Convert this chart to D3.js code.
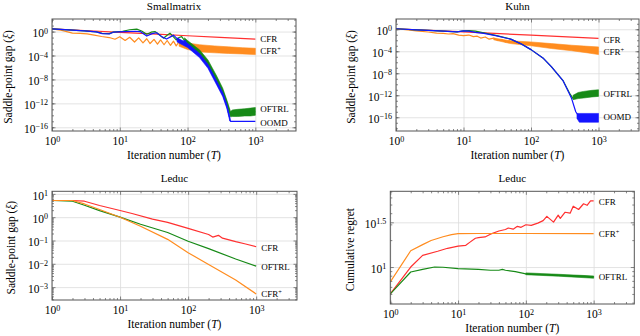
<!DOCTYPE html>
<html><head><meta charset="utf-8">
<script src="https://cdn.jsdelivr.net/npm/d3@7"></script>
<style>
body{margin:0;background:#fff;}
svg text{font-family:"Liberation Serif","Times New Roman",serif;fill:#000;}
</style></head><body>
<svg id="c" width="640" height="336"></svg>
<script>
// ---------------- DATA ----------------
const xTickValues = [1, 10, 100, 1000];

// Smallmatrix (saddle-point gap)
const smCFR_T = [1, 3, 10, 30, 100, 300, 1000];
const smCFR = [2.8, 1.5, 0.76, 0.41, 0.2, 0.11, 0.054];
const smCFRp_T = [1, 1.4, 2, 2.6, 3.3, 4.2, 5.4, 7, 8.5, 10, 12, 14, 16.5, 19, 22, 25, 28, 32, 36, 40, 45, 50, 56, 62, 68, 75, 82];
const smCFRp = [2.8, 1.6, 0.54, 0.5, 0.42, 0.25, 0.15, 0.1, 0.052, 0.14, 0.032, 0.11, 0.018, 0.089, 0.013, 0.063, 0.01, 0.05, 7.9e-3, 0.04, 6.3e-3, 0.032, 5.0e-3, 0.025, 4.0e-3, 0.02, 3.2e-3];
const smCFRpBand_T = [75, 100, 150, 250, 400, 650, 1000];
const smCFRpBand_lo = [3.5e-3, 1.0e-3, 4.0e-4, 2.8e-4, 2.2e-4, 1.8e-4, 1.4e-4];
const smCFRpBand_hi = [0.02, 0.0126, 6.3e-3, 4.0e-3, 2.8e-3, 2.0e-3, 1.6e-3];
const smOFTRL_T = [1, 2, 3, 4.5, 5.5, 7, 8, 11, 14, 17.8, 21, 25, 29, 33, 38, 44, 50, 55, 62, 68, 75, 82, 90, 100, 150, 200, 270, 330, 380, 430, 450, 600, 1000];
const smOFTRL = [2.8, 1.8, 1.3, 0.89, 0.5, 0.45, 0.79, 1.12, 2.0, 2.5, 1.26, 0.36, 0.79, 1.0, 0.32, 0.079, 0.25, 0.54, 0.126, 0.04, 0.1, 0.14, 0.032, 0.0112, 3.2e-4, 6.3e-6, 1.26e-8, 1.26e-10, 1.26e-12, 1.6e-14, 1e-14, 2.5e-14, 4.0e-14];
const smOFTRLBand_T = [90, 100, 150, 200, 270, 330, 380, 430, 460, 550, 700, 850, 1000];
const smOFTRLBand_lo = [0.0112, 4.0e-3, 1.1e-4, 2.2e-6, 4.5e-9, 4.5e-11, 4.5e-13, 5.6e-15, 6.3e-15, 6.3e-15, 7.9e-15, 7.9e-15, 1e-14];
const smOFTRLBand_hi = [0.089, 0.032, 8.9e-4, 1.8e-5, 3.5e-8, 3.5e-10, 3.5e-12, 4.5e-14, 7.9e-14, 1e-13, 1.26e-13, 1.6e-13, 2.0e-13];
const smOOMD_T = [1, 2, 3, 4.5, 5.5, 7, 8, 12, 17, 20, 25, 30, 35, 42, 49, 56, 62, 72, 82, 92, 100, 150, 200, 270, 330, 380, 430, 1000];
const smOOMD = [2.8, 1.8, 1.3, 0.89, 0.45, 0.4, 0.79, 1.0, 1.12, 1.0, 0.18, 0.45, 0.63, 0.13, 0.056, 0.13, 0.25, 0.05, 0.02, 0.032, 5.0e-3, 1e-4, 1.6e-6, 2.5e-9, 3.2e-11, 3.2e-13, 1e-15, 1e-15];
const smOOMDBand_T = [70, 100, 150, 200, 270, 330, 380, 420];
const smOOMDBand_lo = [0.0178, 2.2e-3, 4.5e-5, 7.1e-7, 1.1e-9, 1.4e-11, 1.4e-13, 1.1e-15];
const smOOMDBand_hi = [0.089, 0.0112, 2.2e-4, 3.5e-6, 5.6e-9, 7.1e-11, 7.1e-13, 5.6e-15];

// Kuhn (saddle-point gap)
const kuCFR_T = [1, 10, 100, 1000];
const kuCFR = [1.26, 0.33, 0.085, 0.022];
const kuCFRp_T = [1, 1.5, 2, 3, 4, 5, 6, 7, 8.5, 10, 12, 14, 16, 18, 21, 24, 28, 32, 37, 42, 48, 55];
const kuCFRp = [1.26, 0.79, 0.5, 0.32, 0.2, 0.18, 0.14, 0.16, 0.089, 0.071, 0.089, 0.045, 0.056, 0.025, 0.04, 0.016, 0.025, 0.01, 0.014, 5.0e-3, 7.9e-3, 3.2e-3];
const kuCFRpBand_T = [28, 50, 100, 200, 400, 700, 1000];
const kuCFRpBand_lo = [0.012, 2.5e-3, 1e-3, 3.2e-4, 1.26e-4, 5.0e-5, 2.5e-5];
const kuCFRpBand_hi = [0.025, 7.9e-3, 5.0e-3, 2.5e-3, 1.26e-3, 7.9e-4, 6.3e-4];
const kuOFTRL_T = [1, 2, 3, 5, 8, 10, 12, 15, 20, 30, 50, 70, 100, 150, 200, 300, 380, 420];
const kuOFTRL = [1.26, 0.79, 0.63, 0.45, 0.35, 0.5, 0.56, 0.45, 0.22, 0.079, 0.016, 2.5e-3, 2.0e-4, 6.3e-6, 1.6e-7, 4.0e-10, 1.6e-12, 2.5e-13];
const kuOFTRLBand_T = [420, 500, 600, 800, 1000];
const kuOFTRLBand_lo = [1.6e-13, 2.5e-13, 3.2e-13, 5.0e-13, 6.3e-13];
const kuOFTRLBand_hi = [1e-12, 3.2e-12, 5.0e-12, 7.9e-12, 1e-11];
const kuOOMD_T = [1, 2, 3, 5, 8, 10, 12, 15, 20, 30, 50, 70, 100, 150, 200, 300, 400, 460, 520];
const kuOOMD = [1.26, 0.79, 0.63, 0.45, 0.35, 0.5, 0.45, 0.28, 0.18, 0.071, 0.016, 2.5e-3, 2.0e-4, 6.3e-6, 1.6e-7, 4.0e-10, 2.5e-13, 1e-15, 1e-16];
const kuOOMDBand_T = [480, 520, 700, 1000];
const kuOOMDBand_lo = [6.3e-17, 1.26e-17, 1.26e-17, 1.26e-17];
const kuOOMDBand_hi = [5.0e-16, 5.0e-16, 5.0e-16, 5.0e-16];

// Leduc (saddle-point gap)
const leCFR_T = [1, 2, 3, 5, 10, 15, 30, 50, 100, 200, 230, 279, 320, 500, 700, 1000];
const leCFR = [5.2, 5.2, 4.85, 3.16, 1.93, 1.44, 0.83, 0.6, 0.33, 0.18, 0.14, 0.166, 0.126, 0.089, 0.071, 0.054];
const leOFTRL_T = [1, 2, 3, 5, 10, 20, 50, 100, 200, 500, 1000];
const leOFTRL = [5.2, 4.85, 3.24, 1.9, 1.0, 0.5, 0.22, 0.093, 0.045, 0.016, 7.9e-3];
const leCFRp_T = [1, 2, 3, 5, 10, 20, 50, 100, 200, 500, 1000];
const leCFRp = [5.2, 5.2, 3.7, 2.14, 1.0, 0.41, 0.112, 0.03, 9.3e-3, 2.0e-3, 5.1e-4];

// Leduc (cumulative regret)
const rgCFR_T = [1, 2, 3, 5, 7, 10, 13, 15, 18, 20, 25, 30, 40, 50, 55, 65, 75, 85, 100, 120, 150, 180, 204, 256, 300, 322, 380, 450, 500, 600, 710, 800, 900, 1000];
const rgCFR = [5.0, 10.0, 13.5, 15.0, 16.2, 17.1, 17.5, 19.0, 21.0, 21.3, 21.7, 23.3, 25.3, 26.3, 27.3, 26.5, 28.5, 27.8, 29.7, 29.2, 31.0, 33.0, 36.9, 31.8, 38.0, 35.0, 41.0, 40.0, 47.9, 44.0, 51.0, 49.0, 55.0, 55.0];
const rgCFRp_T = [1, 2, 3, 4, 6, 8, 10, 20, 100, 1000];
const rgCFRp = [6.8, 15.2, 17.8, 19.8, 21.8, 23.0, 23.6, 23.7, 23.7, 23.6];
const rgOFTRL_T = [1, 2, 3, 4.5, 6, 10, 20, 30, 40, 45, 50, 70, 100, 200, 400, 700, 1000];
const rgOFTRL = [5.0, 8.8, 9.4, 10.0, 9.95, 9.6, 9.4, 9.2, 9.2, 9.4, 9.2, 8.9, 8.4, 8.2, 8.0, 7.9, 7.75];
const rgOFTRLBand_T = [100, 300, 1000];
const rgOFTRLBand_lo = [8.2, 7.9, 7.5];
const rgOFTRLBand_hi = [8.6, 8.3, 7.95];

// Titles / labels
const titles = ["Smallmatrix", "Kuhn", "Leduc", "Leduc"];
const xLabel = "Iteration number (", xLabelVar = "T";
const gapLabel = "Saddle-point gap (", gapVar = "ξ";
const regretLabel = "Cumulative regret";

// ---------------- DRAW ----------------
const COL = {red: "#ff3030", orange: "#ff8c1f", green: "#178a17", blue: "#1414ff"};
const svg = d3.select("#c");
const zip = (T, v) => T.map((t, i) => [t, v[i]]);
const zip3 = (T, a, b) => T.map((t, i) => [t, a[i], b[i]]);

function expStr(v) {
  const e = Math.round(Math.log10(v) * 10) / 10;
  return (e < 0 ? "\u2212" : "") + Math.abs(e);
}
function supText(sel, base, exp) {
  sel.text(null);
  sel.append("tspan").text(base);
  if (exp) sel.append("tspan").attr("dy", "-0.45em").attr("font-size", "0.7em").text(exp);
}
function minorTicks(domain) {
  const out = [];
  const lo = Math.floor(Math.log10(domain[0])), hi = Math.ceil(Math.log10(domain[1]));
  for (let k = lo; k <= hi; k++) {
    const b = Math.pow(10, k);
    for (let m = 2; m <= 9; m++) { const v = m * b; if (v >= domain[0] && v <= domain[1]) out.push(v); }
  }
  return out;
}
function decadeTicks(domain) {
  const out = [];
  for (let k = Math.ceil(Math.log10(domain[0])); k <= Math.floor(Math.log10(domain[1])); k++) out.push(Math.pow(10, k));
  return out;
}

function panel(cfg, idx) {
  const {L, R, T, B} = cfg.box;
  const x = d3.scaleLog().domain(cfg.xDomain).range([L, R]);
  const y = d3.scaleLog().domain(cfg.yDomain).range([B, T]);
  const g = svg.append("g");
  const clipId = "clip" + idx;
  g.append("clipPath").attr("id", clipId).append("rect").attr("x", L).attr("y", T).attr("width", R - L).attr("height", B - T);

  const style = s => { s.select(".domain").remove(); s.selectAll("line").attr("stroke", "#dcdcdc").attr("stroke-width", 0.8); };
  g.append("g").attr("transform", `translate(0,${B})`)
    .call(d3.axisBottom(x).tickValues(xTickValues).tickSize(-(B - T)).tickFormat("")).call(style);
  g.append("g").attr("transform", `translate(${L},0)`)
    .call(d3.axisLeft(y).tickValues(cfg.yTicks).tickSize(-(R - L)).tickFormat("")).call(style);

  const plot = g.append("g").attr("clip-path", `url(#${clipId})`);
  const line = d3.line().x(d => x(d[0])).y(d => y(d[1]));
  const area = d3.area().x(d => x(d[0])).y0(d => y(d[1])).y1(d => y(d[2]));
  cfg.layers.forEach(l => {
    if (l.band) {
      plot.append("path").attr("d", area(zip3(l.T, l.lo, l.hi))).attr("fill", l.color).attr("stroke", l.color).attr("stroke-width", 0.6);
    } else {
      plot.append("path").attr("d", line(zip(l.T, l.v))).attr("fill", "none").attr("stroke", l.color).attr("stroke-width", l.w || 1.2).attr("stroke-linejoin", "round");
    }
  });

  // inside ticks
  const tickStyle = s => { s.select(".domain").remove(); s.selectAll("line").attr("stroke", "#555").attr("stroke-width", 0.7); };
  const xMinor = minorTicks(cfg.xDomain);
  g.append("g").attr("transform", `translate(0,${B})`).call(d3.axisBottom(x).tickValues(xMinor).tickSize(-2).tickFormat("")).call(tickStyle);
  g.append("g").attr("transform", `translate(0,${T})`).call(d3.axisTop(x).tickValues(xMinor).tickSize(-2).tickFormat("")).call(tickStyle);
  g.append("g").attr("transform", `translate(0,${B})`).call(d3.axisBottom(x).tickValues(xTickValues).tickSize(-3.5).tickFormat("")).call(tickStyle);
  g.append("g").attr("transform", `translate(0,${T})`).call(d3.axisTop(x).tickValues(xTickValues).tickSize(-3.5).tickFormat("")).call(tickStyle);
  const yMinor = cfg.yMinor;
  g.append("g").attr("transform", `translate(${L},0)`).call(d3.axisLeft(y).tickValues(yMinor).tickSize(-2).tickFormat("")).call(tickStyle);
  g.append("g").attr("transform", `translate(${R},0)`).call(d3.axisRight(y).tickValues(yMinor).tickSize(-2).tickFormat("")).call(tickStyle);
  g.append("g").attr("transform", `translate(${L},0)`).call(d3.axisLeft(y).tickValues(cfg.yTicks).tickSize(-3.5).tickFormat("")).call(tickStyle);
  g.append("g").attr("transform", `translate(${R},0)`).call(d3.axisRight(y).tickValues(cfg.yTicks).tickSize(-3.5).tickFormat("")).call(tickStyle);

  // tick labels
  const xl = g.append("g").attr("transform", `translate(0,${B})`)
    .call(d3.axisBottom(x).tickValues(xTickValues).tickSize(0).tickPadding(6));
  xl.select(".domain").remove();
  xl.selectAll(".tick text").attr("font-size", 11.5).each(function(d) { supText(d3.select(this), "10", expStr(d)); });
  const yl = g.append("g").attr("transform", `translate(${L},0)`)
    .call(d3.axisLeft(y).tickValues(cfg.yTicks).tickSize(0).tickPadding(4));
  yl.select(".domain").remove();
  yl.selectAll(".tick text").attr("font-size", 11.5).attr("dy", "0.45em").each(function(d) { supText(d3.select(this), "10", expStr(d)); });

  // box
  g.append("rect").attr("x", L).attr("y", T).attr("width", R - L).attr("height", B - T).attr("fill", "none").attr("stroke", "#555").attr("stroke-width", 1);

  // curve labels
  cfg.labels.forEach(lb => {
    const t = g.append("text").attr("x", x(1000) + 5).attr("y", y(lb.v)).attr("dy", "0.35em").attr("font-size", 9);
    supText(t, lb.text, lb.sup);
  });

  // title & axis labels
  g.append("text").attr("x", (L + R) / 2).attr("y", T - 9.5).attr("text-anchor", "middle").attr("font-size", 11).text(cfg.title);
  const xt = g.append("text").attr("x", (L + R) / 2).attr("y", B + 27.5).attr("text-anchor", "middle").attr("font-size", 11.5);
  xt.append("tspan").text(xLabel); xt.append("tspan").attr("font-style", "italic").text(xLabelVar); xt.append("tspan").text(")");
  const yt = g.append("text").attr("transform", `translate(${cfg.yLabelX},${(T + B) / 2 + 2}) rotate(-90)`).attr("text-anchor", "middle").attr("font-size", 11.5);
  if (cfg.regret) yt.text(regretLabel);
  else { yt.append("tspan").text(gapLabel); yt.append("tspan").attr("font-style", "italic").text(gapVar); yt.append("tspan").text(")"); }
}

const panels = [
  {
    title: titles[0], box: {L: 52, R: 296, T: 19, B: 131}, xDomain: [1, 3981], yDomain: [2.4e-17, 126],
    yTicks: [1, 1e-4, 1e-8, 1e-12, 1e-16], yMinor: decadeTicks([2.4e-17, 126]), yLabelX: 11.5,
    layers: [
      {T: smCFR_T, v: smCFR, color: COL.red},
      {band: true, T: smCFRpBand_T, lo: smCFRpBand_lo, hi: smCFRpBand_hi, color: COL.orange},
      {T: smCFRp_T, v: smCFRp, color: COL.orange},
      {band: true, T: smOFTRLBand_T, lo: smOFTRLBand_lo, hi: smOFTRLBand_hi, color: COL.green},
      {T: smOFTRL_T, v: smOFTRL, color: COL.green},
      {band: true, T: smOOMDBand_T, lo: smOOMDBand_lo, hi: smOOMDBand_hi, color: COL.blue},
      {T: smOOMD_T, v: smOOMD, color: COL.blue}
    ],
    labels: [{text: "CFR", v: 0.054}, {text: "CFR", sup: "+", v: 6.6e-4}, {text: "OFTRL", v: 1.15e-13}, {text: "OOMD", v: 5.9e-16}]
  },
  {
    title: titles[1], box: {L: 396, R: 639, T: 19, B: 131}, xDomain: [1, 3981], yDomain: [3.2e-19, 74],
    yTicks: [1, 1e-4, 1e-8, 1e-12, 1e-16], yMinor: decadeTicks([3.2e-19, 74]), yLabelX: 354.5,
    layers: [
      {T: kuCFR_T, v: kuCFR, color: COL.red},
      {band: true, T: kuCFRpBand_T, lo: kuCFRpBand_lo, hi: kuCFRpBand_hi, color: COL.orange},
      {T: kuCFRp_T, v: kuCFRp, color: COL.orange},
      {band: true, T: kuOFTRLBand_T, lo: kuOFTRLBand_lo, hi: kuOFTRLBand_hi, color: COL.green},
      {T: kuOFTRL_T, v: kuOFTRL, color: COL.green},
      {band: true, T: kuOOMDBand_T, lo: kuOOMDBand_lo, hi: kuOOMDBand_hi, color: COL.blue},
      {T: kuOOMD_T, v: kuOOMD, color: COL.blue}
    ],
    labels: [{text: "CFR", v: 0.0112}, {text: "CFR", sup: "+", v: 8.5e-5}, {text: "OFTRL", v: 1.6e-12}, {text: "OOMD", v: 1e-16}]
  },
  {
    title: titles[2], box: {L: 52, R: 297, T: 191.3, B: 300}, xDomain: [1, 3981], yDomain: [2.8e-4, 12.9],
    yTicks: [10, 1, 0.1, 0.01, 0.001], yMinor: minorTicks([2.8e-4, 12.9]), yLabelX: 15,
    layers: [
      {T: leCFR_T, v: leCFR, color: COL.red},
      {T: leOFTRL_T, v: leOFTRL, color: COL.green},
      {T: leCFRp_T, v: leCFRp, color: COL.orange}
    ],
    labels: [{text: "CFR", v: 0.048}, {text: "OFTRL", v: 7.4e-3}, {text: "CFR", sup: "+", v: 5.1e-4}]
  },
  {
    title: titles[3], box: {L: 390.3, R: 634.3, T: 191.3, B: 304}, xDomain: [1, 3981], yDomain: [3.86, 70.3],
    yTicks: [10, 31.62], yMinor: minorTicks([3.86, 70.3]), yLabelX: 354, regret: true,
    layers: [
      {T: rgCFR_T, v: rgCFR, color: COL.red},
      {T: rgCFRp_T, v: rgCFRp, color: COL.orange},
      {band: true, T: rgOFTRLBand_T, lo: rgOFTRLBand_lo, hi: rgOFTRLBand_hi, color: COL.green},
      {T: rgOFTRL_T, v: rgOFTRL, color: COL.green}
    ],
    labels: [{text: "CFR", v: 53}, {text: "CFR", sup: "+", v: 23.4}, {text: "OFTRL", v: 7.73}]
  }
];
panels.forEach(panel);
</script></body></html>
